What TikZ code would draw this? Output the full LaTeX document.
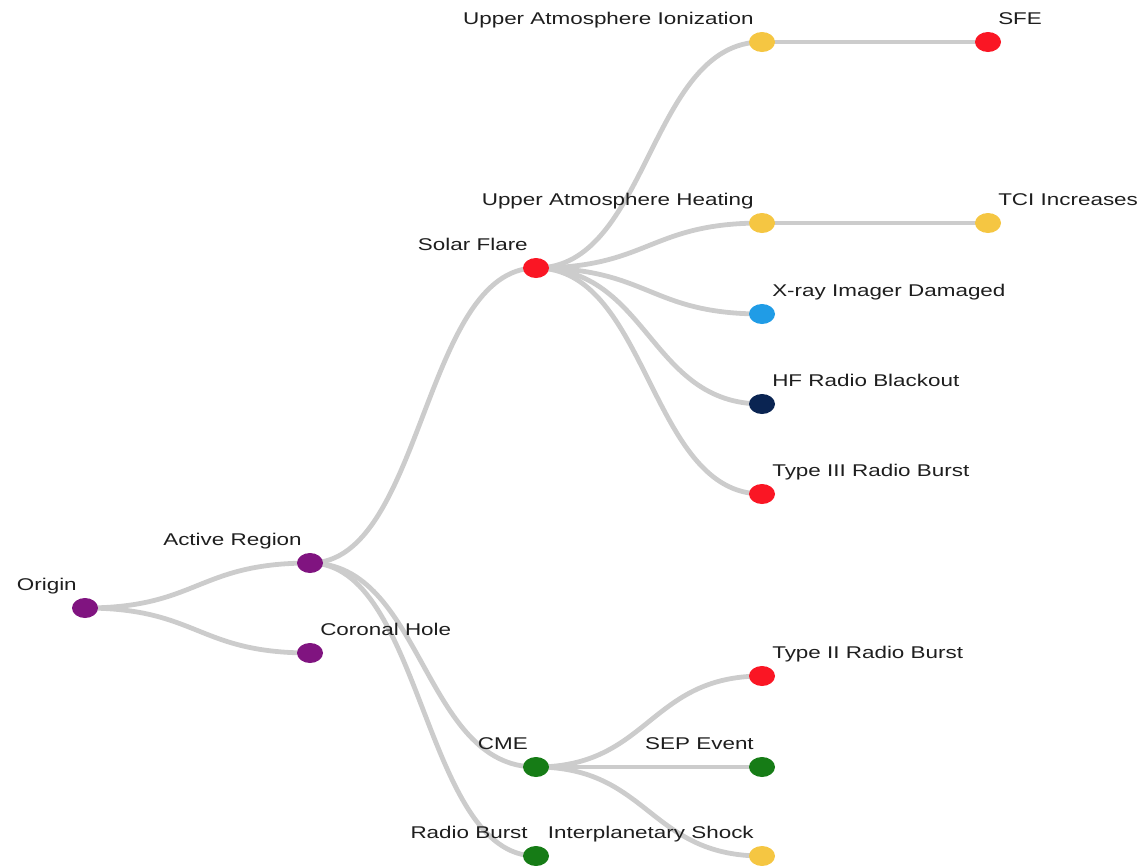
\documentclass[tikz,border=0pt]{standalone}
\usepackage{fontspec}
\setmainfont{Liberation Sans}
\usetikzlibrary{shapes.geometric,backgrounds}
\definecolor{plum}{RGB}{128,20,128}
\definecolor{flame}{RGB}{250,22,36}
\definecolor{gold}{RGB}{245,198,66}
\definecolor{sky}{RGB}{32,156,230}
\definecolor{navy}{RGB}{10,36,82}
\definecolor{leaf}{RGB}{22,124,22}
\definecolor{ink}{RGB}{30,30,30}
\definecolor{wire}{RGB}{204,204,204}

\begin{document}
\begin{tikzpicture}[x=1pt,y=-1pt,
    dot/.style={ellipse,minimum width=26,minimum height=20,inner sep=0,fill=#1},
    tag/.style={font=\fontsize{17}{20}\selectfont,xscale=1.32,inner sep=0,text=ink},
    ltag/.style={tag,anchor=base east},
    rtag/.style={tag,anchor=base west},
    link/.style={draw=wire,line width=4.8,line cap=round}]
  \useasboundingbox (0,0) rectangle (1142,865);
  \node[dot=plum] (origin) at (85,608) {};
  \node[dot=plum] (active) at (310,563) {};
  \node[dot=plum] (hole) at (310,653) {};
  \node[dot=flame] (flare) at (536,268) {};
  \node[dot=leaf] (cme) at (536,767) {};
  \node[dot=leaf] (burst) at (536,856) {};
  \node[dot=gold] (ioniz) at (762,42) {};
  \node[dot=gold] (heat) at (762,223) {};
  \node[dot=sky] (xray) at (762,314) {};
  \node[dot=navy] (hf) at (762,404) {};
  \node[dot=flame] (typethree) at (762,494) {};
  \node[dot=flame] (sfe) at (988,42) {};
  \node[dot=gold] (tci) at (988,223) {};
  \node[dot=flame] (typetwo) at (762,676) {};
  \node[dot=leaf] (sep) at (762,767) {};
  \node[dot=gold] (shock) at (762,856) {};

  \node[ltag] (origin-t) at ([shift={(-8,-18)}]origin.center) {Origin};
  \node[ltag] (active-t) at ([shift={(-8,-18)}]active.center) {Active Region};
  \node[rtag] (hole-t) at ([shift={(10,-18)}]hole.center) {Coronal Hole};
  \node[ltag] (flare-t) at ([shift={(-8,-18)}]flare.center) {Solar Flare};
  \node[ltag] (cme-t) at ([shift={(-8,-18)}]cme.center) {CME};
  \node[ltag] (burst-t) at ([shift={(-8,-18)}]burst.center) {Radio Burst};
  \node[ltag] (ioniz-t) at ([shift={(-8,-18)}]ioniz.center) {Upper Atmosphere Ionization};
  \node[ltag] (heat-t) at ([shift={(-8,-18)}]heat.center) {Upper Atmosphere Heating};
  \node[rtag] (xray-t) at ([shift={(10,-18)}]xray.center) {X-ray Imager Damaged};
  \node[rtag] (hf-t) at ([shift={(10,-18)}]hf.center) {HF Radio Blackout};
  \node[rtag] (typethree-t) at ([shift={(10,-18)}]typethree.center) {Type III Radio Burst};
  \node[rtag] (sfe-t) at ([shift={(10,-18)}]sfe.center) {SFE};
  \node[rtag] (tci-t) at ([shift={(10,-18)}]tci.center) {TCI Increases};
  \node[rtag] (typetwo-t) at ([shift={(10,-18)}]typetwo.center) {Type II Radio Burst};
  \node[ltag] (sep-t) at ([shift={(-8,-18)}]sep.center) {SEP Event};
  \node[ltag] (shock-t) at ([shift={(-8,-18)}]shock.center) {Interplanetary Shock};

  \begin{scope}[on background layer]
    \foreach \a/\b in {origin/active,origin/hole,active/flare,active/cme,active/burst,
        flare/ioniz,flare/heat,flare/xray,flare/hf,flare/typethree,ioniz/sfe,heat/tci,
        cme/typetwo,cme/sep,cme/shock}
      \draw[link] (\a.center) .. controls +(113,0) and +(-113,0) .. (\b.center);
  \end{scope}
\end{tikzpicture}
\end{document}
